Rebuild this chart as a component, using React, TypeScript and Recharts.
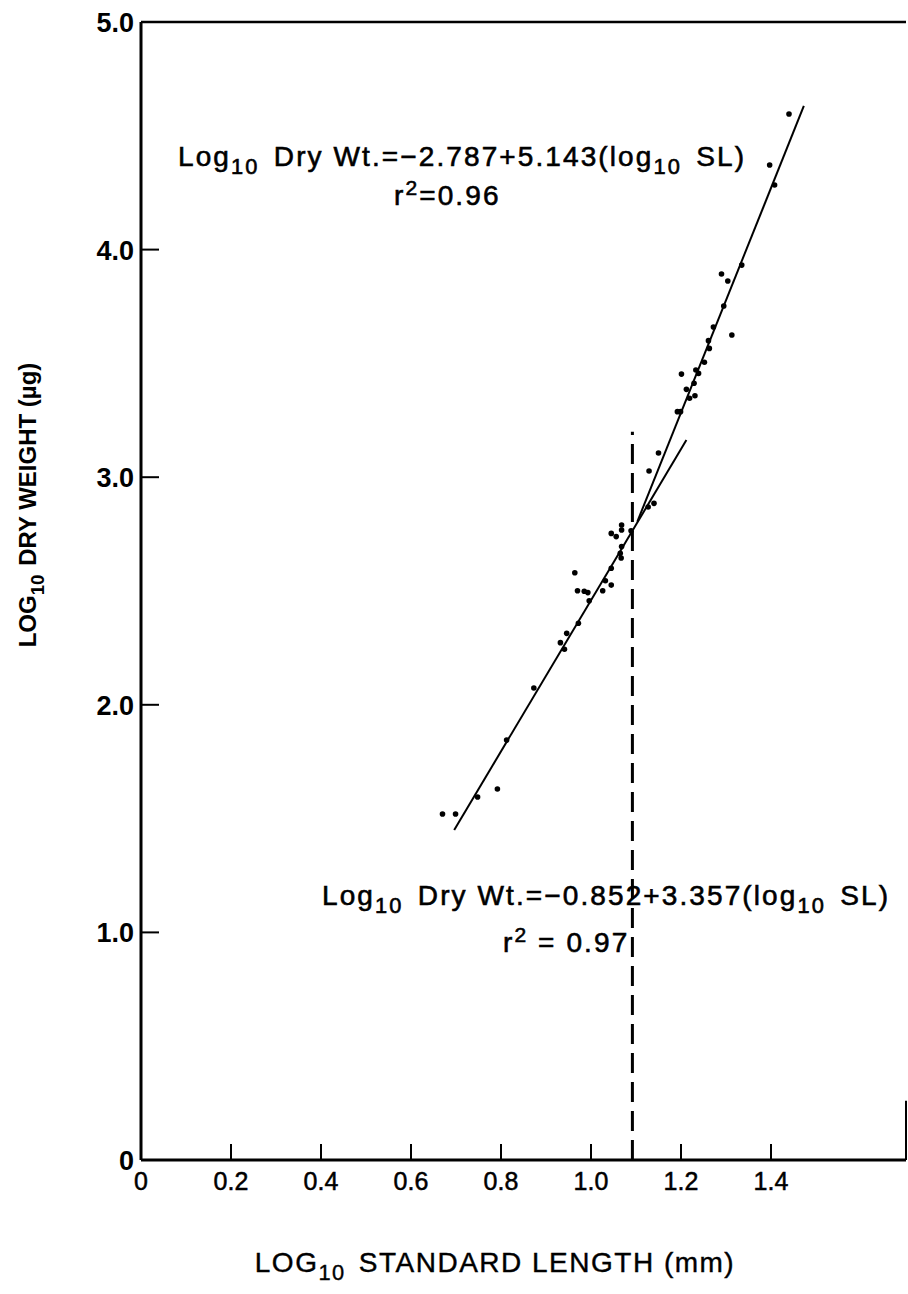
import { ScatterChart, Scatter, XAxis, YAxis, ReferenceLine } from "recharts";

// axis ticks
const xTicks = [0, 0.2, 0.4, 0.6, 0.8, 1.0, 1.2, 1.4];
const xTickLabels = ["0", "0.2", "0.4", "0.6", "0.8", "1.0", "1.2", "1.4"];
const yTicks = [0, 1, 2, 3, 4, 5];
const yTickLabels = ["0", "1.0", "2.0", "3.0", "4.0", "5.0"];

// observations: log10 standard length (mm) vs log10 dry weight (ug)
const logLength = [
  0.67, 0.699, 0.748, 0.792, 0.8125, 0.873,
  0.932, 0.941, 0.946, 0.972, 0.964, 0.97, 0.985, 0.993, 0.996, 1.026, 1.032, 1.045, 1.045,
  1.045, 1.056, 1.068, 1.068, 1.089, 1.068, 1.065, 1.067,
  1.127, 1.14, 1.129, 1.15,
  1.192, 1.199, 1.219, 1.231, 1.212, 1.229, 1.201, 1.239, 1.233, 1.252, 1.263, 1.261,
  1.272, 1.313, 1.295, 1.29, 1.304, 1.335, 1.408, 1.397, 1.44,
];
const logWeight = [
  1.52, 1.52, 1.595, 1.63, 1.845, 2.074,
  2.273, 2.244, 2.314, 2.358, 2.58, 2.501, 2.499, 2.493, 2.457, 2.501, 2.545, 2.526, 2.6,
  2.753, 2.739, 2.79, 2.768, 2.765, 2.695, 2.666, 2.645,
  2.869, 2.885, 3.027, 3.106,
  3.288, 3.288, 3.347, 3.358, 3.386, 3.413, 3.453, 3.456, 3.471, 3.505, 3.566, 3.6,
  3.66, 3.625, 3.752, 3.893, 3.862, 3.932, 4.284, 4.372, 4.596,
];

// fitted lines (end points as drawn)
const lowerFitX = [0.696, 1.212];
const lowerFitY = [1.45, 3.163];
const upperFitX = [1.103, 1.473];
const upperFitY = [2.805, 4.631];

// break point marker
const breakX = 1.092;
const breakTop = 3.2;

const points = logLength.map((x, i) => ({ x, y: logWeight[i] }));
const lowerFit = lowerFitX.map((x, i) => ({ x, y: lowerFitY[i] }));
const upperFit = upperFitX.map((x, i) => ({ x, y: upperFitY[i] }));

const FONT = "'Liberation Sans', Arial, sans-serif";

function XTick(props: any) {
  const { x, y, index } = props;
  return (
    <g>
      {index > 0 && (
        <line x1={x} x2={x} y1={y} y2={y - 16} stroke="#000" strokeWidth={2} />
      )}
      <text x={x} y={y + 30} textAnchor="middle" fontSize={25} fontFamily={FONT} fill="#000" stroke="#000" strokeWidth={0.5}>
        {xTickLabels[index]}
      </text>
    </g>
  );
}

function YTick(props: any) {
  const { x, y, index } = props;
  const inner = index > 0 && index < yTicks.length - 1;
  return (
    <g>
      {inner && <line x1={x} x2={x + 18} y1={y} y2={y} stroke="#000" strokeWidth={2} />}
      <text x={x - 7} y={y + 10} textAnchor="end" fontSize={27} fontWeight="bold" fontFamily={FONT} fill="#000">
        {yTickLabels[index]}
      </text>
    </g>
  );
}

const Dot = (props: any) => <circle cx={props.cx} cy={props.cy} r={2.8} fill="#000" />;
const NoDot = () => <g />;

function Sub({ children }: { children: string }) {
  return (
    <>
      <tspan dy={8} fontSize="0.78em">{children}</tspan>
      <tspan dy={-8}>{"\u200A"}</tspan>
    </>
  );
}

const eqStyle = { fontSize: 28, letterSpacing: 2.1 };

export default function App() {
  return (
    <div style={{ position: "absolute", left: 0, top: 0, width: 908, height: 1294, background: "#fff" }}>
      <ScatterChart width={908} height={1294} margin={{ top: 22, right: 2, bottom: 0, left: 0 }}>
        <XAxis
          type="number"
          dataKey="x"
          domain={[0, 1.7]}
          ticks={xTicks}
          allowDataOverflow
          height={134}
          tickSize={0}
          tickMargin={0}
          tickLine={false}
          tick={<XTick />}
          axisLine={{ stroke: "#000", strokeWidth: 3 }}
        />
        <YAxis
          type="number"
          dataKey="y"
          domain={[0, 5]}
          ticks={yTicks}
          allowDataOverflow
          width={141}
          tickSize={0}
          tickMargin={0}
          tickLine={false}
          tick={<YTick />}
          axisLine={{ stroke: "#000", strokeWidth: 3 }}
        />
        <ReferenceLine y={5} stroke="#000" strokeWidth={2.5} />
        <ReferenceLine segment={[{ x: 1.7, y: 0 }, { x: 1.7, y: 0.26 }]} stroke="#000" strokeWidth={2} />
        <ReferenceLine
          segment={[{ x: breakX, y: 0 }, { x: breakX, y: breakTop }]}
          stroke="#000"
          strokeWidth={3}
          strokeDasharray="20 9"
        />
        <Scatter data={lowerFit} line={{ stroke: "#000", strokeWidth: 2 }} shape={<NoDot />} isAnimationActive={false} />
        <Scatter data={upperFit} line={{ stroke: "#000", strokeWidth: 2 }} shape={<NoDot />} isAnimationActive={false} />
        <Scatter data={points} shape={<Dot />} isAnimationActive={false} />
      </ScatterChart>
      <svg
        width={908}
        height={1294}
        style={{ position: "absolute", left: 0, top: 0, pointerEvents: "none" }}
        fontFamily={FONT}
        fill="#000"
        stroke="#000"
        strokeWidth={0.6}
      >
        <text x={178} y={166} style={eqStyle}>
          Log<Sub>10</Sub> Dry Wt.=−2.787+5.143(log<Sub>10</Sub> SL)
        </text>
        <text x={394} y={205} style={eqStyle}>
          r<tspan dy={-10} fontSize="0.75em">2</tspan>
          <tspan dy={10}>=0.96</tspan>
        </text>
        <text x={322} y={905} style={eqStyle}>
          Log<Sub>10</Sub> Dry Wt.=−0.852+3.357(log<Sub>10</Sub> SL)
        </text>
        <text x={503} y={952} style={eqStyle}>
          r<tspan dy={-10} fontSize="0.75em">2</tspan>
          <tspan dy={10}> = 0.97</tspan>
        </text>
        <text x={495} y={1272} fontSize={28} letterSpacing={1.5} textAnchor="middle" strokeWidth={0.4}>
          LOG<Sub>10</Sub> STANDARD LENGTH (mm)
        </text>
        <text
          x={0}
          y={0}
          fontSize={24}
          fontWeight="bold"
          textAnchor="middle"
          strokeWidth={0}
          transform="translate(36 505) rotate(-90)"
        >
          LOG<Sub>10</Sub> DRY WEIGHT (µg)
        </text>
      </svg>
    </div>
  );
}
